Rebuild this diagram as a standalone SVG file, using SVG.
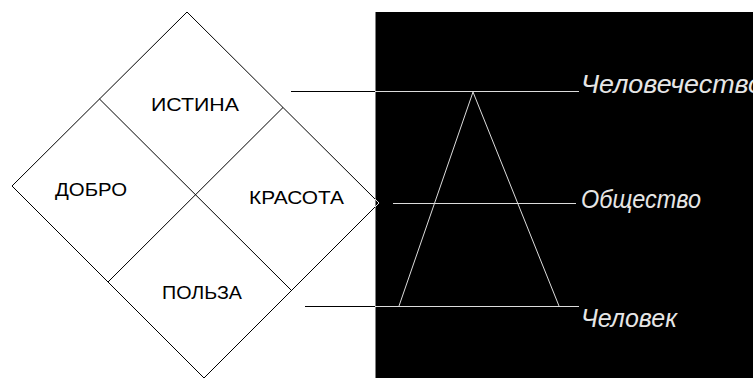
<svg xmlns="http://www.w3.org/2000/svg" width="753" height="378" viewBox="0 0 753 378">
<style>
.edge{fill:none;stroke:#000;stroke-width:1}
.wline{fill:none;stroke:#dcdcdc;stroke-width:1}
.lbl{font-family:"Liberation Sans",Arial,sans-serif;font-size:19px;fill:#000}
.ilbl{font-family:"Liberation Sans",Arial,sans-serif;font-size:25px;font-style:italic;fill:#e6e6e6}
</style>
<rect x="0" y="0" width="753" height="378" fill="#fff"/>
<g id="panel">
<rect x="375" y="12" width="378" height="366" fill="#000"/>
<line x1="375.5" y1="12" x2="375.5" y2="378" stroke="#808080" stroke-width="1"/>
</g>
<g id="diamond">
<polygon class="edge" points="187,12 379,203 204,378 12,186"/>
<polyline class="wline" points="375,199 379,203 375,207"/>
</g>
<g id="connectors">
<line class="edge" x1="99.5" y1="99" x2="291.5" y2="290.5"/>
<line class="edge" x1="283" y1="107.5" x2="108" y2="282"/>
<line class="edge" x1="291" y1="91.5" x2="375" y2="91.5"/>
<line class="wline" x1="375" y1="91.5" x2="579" y2="91.5"/>
<line class="wline" x1="393" y1="203.5" x2="576" y2="203.5"/>
<line class="edge" x1="305" y1="306.5" x2="375" y2="306.5"/>
<line class="wline" x1="375" y1="306.5" x2="579" y2="306.5"/>
<polyline class="wline" points="399,306 473,92 559,306"/>
</g>
<g id="istina"><text class="lbl" x="151" y="111" textLength="88" lengthAdjust="spacingAndGlyphs">ИСТИНА</text></g>
<g id="dobro"><text class="lbl" x="55" y="196" textLength="72" lengthAdjust="spacingAndGlyphs">ДОБРО</text></g>
<g id="krasota"><text class="lbl" x="249" y="204" textLength="95" lengthAdjust="spacingAndGlyphs">КРАСОТА</text></g>
<g id="polza"><text class="lbl" x="162" y="299" textLength="80" lengthAdjust="spacingAndGlyphs">ПОЛЬЗА</text></g>
<g id="chelovechestvo"><text class="ilbl" x="581" y="93" textLength="182" lengthAdjust="spacingAndGlyphs">Человечество</text></g>
<g id="obshchestvo"><text class="ilbl" x="581" y="208" textLength="120" lengthAdjust="spacingAndGlyphs">Общество</text></g>
<g id="chelovek"><text class="ilbl" x="581" y="327" textLength="96" lengthAdjust="spacingAndGlyphs">Человек</text></g>
</svg>
